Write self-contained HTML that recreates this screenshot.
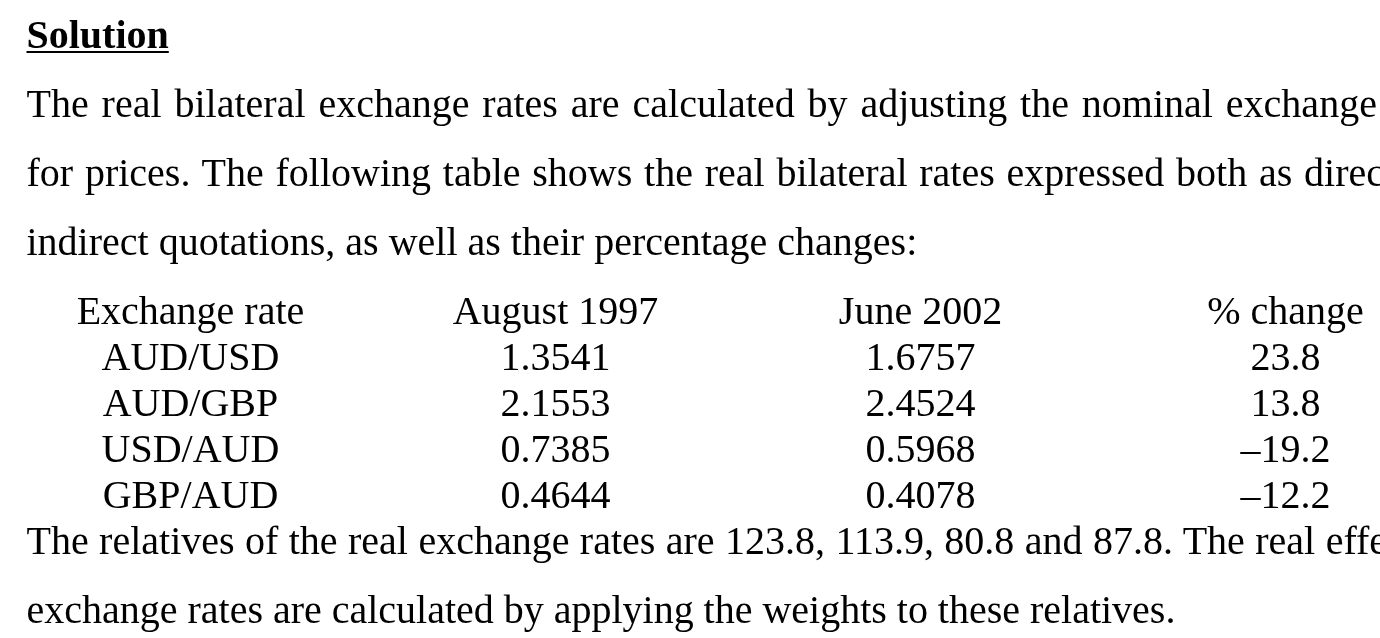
<!DOCTYPE html>
<html><head><meta charset="utf-8"><title>Solution</title>
<style>
html,body{margin:0;padding:0;background:#fff;}
body{width:1380px;height:638px;overflow:hidden;position:relative;font-family:"Liberation Serif",serif;color:#000;font-size:40px;line-height:46px;}
.l{position:absolute;left:26.5px;white-space:nowrap;height:46px;}
.h{font-weight:bold;text-decoration:underline;text-decoration-thickness:2px;text-underline-offset:3px;}
.c{position:absolute;white-space:nowrap;height:46px;text-align:center;width:400px;}
</style></head><body>
<div class="l h" style="top:12px">Solution</div>
<div class="l" style="top:81px;word-spacing:2.92px">The real bilateral exchange rates are calculated by adjusting the nominal exchange rates</div>
<div class="l" style="top:150px;word-spacing:1.78px">for prices. The following table shows the real bilateral rates expressed both as direct and</div>
<div class="l" style="top:219px">indirect quotations, as well as their percentage changes:</div>

<div class="c" style="top:288px;left:-9.5px">Exchange rate</div>
<div class="c" style="top:288px;left:355.5px">August 1997</div>
<div class="c" style="top:288px;left:720.5px">June 2002</div>
<div class="c" style="top:288px;left:1085.5px">% change</div>

<div class="c" style="top:334px;left:-9.5px">AUD/USD</div>
<div class="c" style="top:334px;left:355.5px">1.3541</div>
<div class="c" style="top:334px;left:720.5px">1.6757</div>
<div class="c" style="top:334px;left:1085.5px">23.8</div>

<div class="c" style="top:380px;left:-9.5px">AUD/GBP</div>
<div class="c" style="top:380px;left:355.5px">2.1553</div>
<div class="c" style="top:380px;left:720.5px">2.4524</div>
<div class="c" style="top:380px;left:1085.5px">13.8</div>

<div class="c" style="top:426px;left:-9.5px">USD/AUD</div>
<div class="c" style="top:426px;left:355.5px">0.7385</div>
<div class="c" style="top:426px;left:720.5px">0.5968</div>
<div class="c" style="top:426px;left:1085.5px">–19.2</div>

<div class="c" style="top:472px;left:-9.5px">GBP/AUD</div>
<div class="c" style="top:472px;left:355.5px">0.4644</div>
<div class="c" style="top:472px;left:720.5px">0.4078</div>
<div class="c" style="top:472px;left:1085.5px">–12.2</div>

<div class="l" style="top:518px;word-spacing:0.42px">The relatives of the real exchange rates are 123.8, 113.9, 80.8 and 87.8. The real effective</div>
<div class="l" style="top:587px;word-spacing:-0.06px">exchange rates are calculated by applying the weights to these relatives.</div>
</body></html>
